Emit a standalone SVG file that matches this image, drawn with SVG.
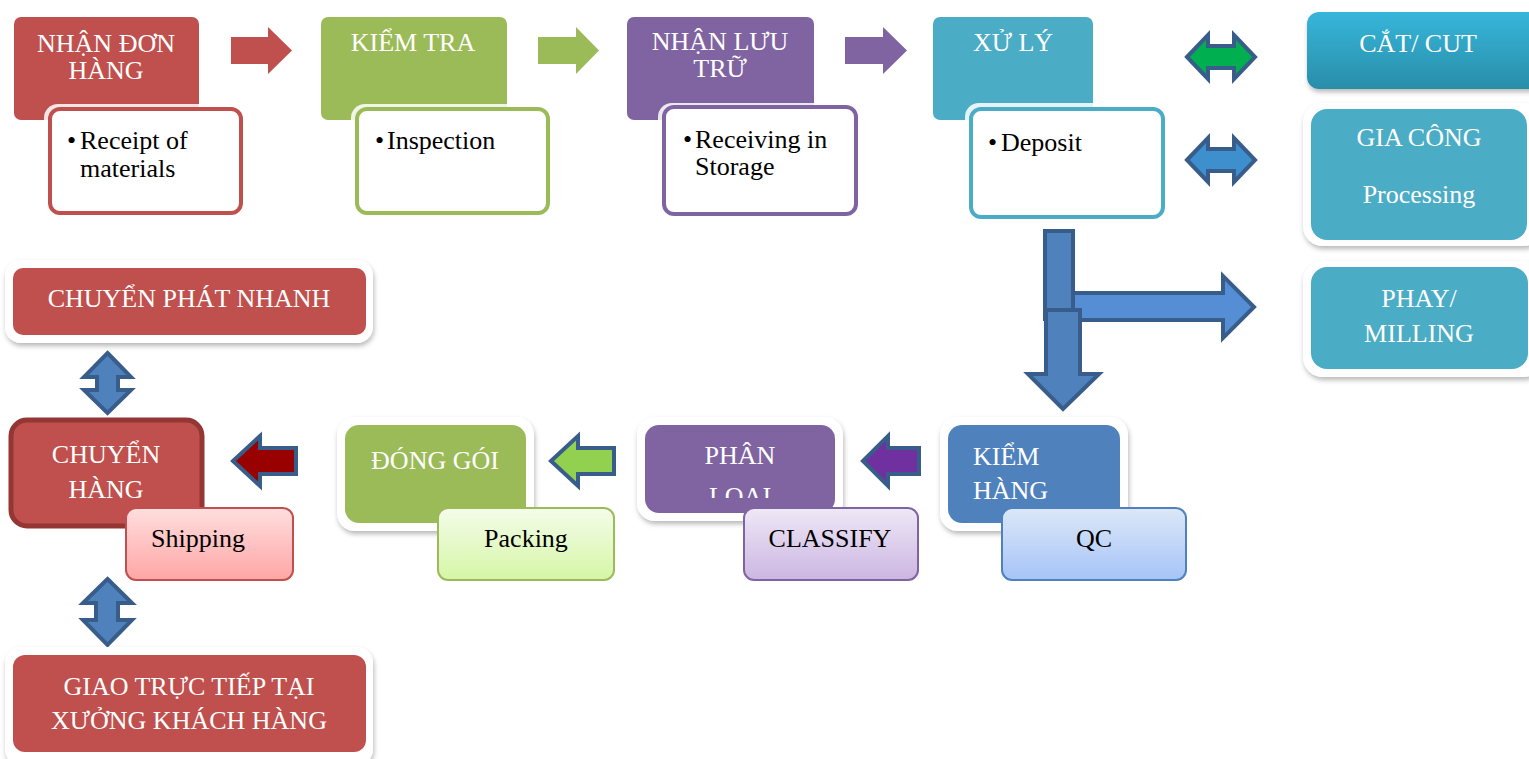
<svg xmlns="http://www.w3.org/2000/svg" width="1529" height="759" viewBox="0 0 1529 759">
<defs>
<filter id="sh" x="-10%" y="-10%" width="120%" height="130%"><feDropShadow dx="1" dy="3" stdDeviation="2.5" flood-color="#000" flood-opacity="0.28"/></filter>
<linearGradient id="gCut" x1="0" y1="0" x2="0" y2="1"><stop offset="0" stop-color="#36B6DA"/><stop offset="1" stop-color="#2A8DA9"/></linearGradient>
<linearGradient id="gShip" x1="0" y1="0" x2="0" y2="1"><stop offset="0" stop-color="#FFDEDE"/><stop offset="1" stop-color="#FFA6A6"/></linearGradient>
<linearGradient id="gPack" x1="0" y1="0" x2="0" y2="1"><stop offset="0" stop-color="#F4FCEA"/><stop offset="1" stop-color="#D6F6A6"/></linearGradient>
<linearGradient id="gClass" x1="0" y1="0" x2="0" y2="1"><stop offset="0" stop-color="#EEE8F6"/><stop offset="1" stop-color="#CCB6E2"/></linearGradient>
<linearGradient id="gQC" x1="0" y1="0" x2="0" y2="1"><stop offset="0" stop-color="#DCE8F8"/><stop offset="1" stop-color="#A6C4F8"/></linearGradient>
<clipPath id="clipLoai"><rect x="640" y="420" width="200" height="78"/></clipPath>
</defs>
<style>
text{font-family:"Liberation Serif","Times New Roman",serif;font-size:26px}
.w{fill:#FFFFFF}
.k{fill:#000000}
.c{text-anchor:middle}
.frame{fill:#FFFFFF;filter:url(#sh)}
.sub{fill:#FFFFFF;stroke-width:4}
.halo{fill:#FFFFFF;opacity:0.85}
.arr{stroke:#385D8A;stroke-width:4;stroke-linejoin:miter}
.grad{stroke-width:2}
</style>

<g id="connectors">
<polygon points="231,37 268,37 268,27 292,50.5 268,74 268,64 231,64" fill="#C0504D"/>
<polygon points="538,37 576,37 576,27 599,50.5 576,74 576,64 538,64" fill="#9BBB59"/>
<polygon points="845,37 883,37 883,27 907,50.5 883,74 883,64 845,64" fill="#8064A2"/>
<polygon class="arr" points="1187,57 1208,35 1208,46 1234,46 1234,35 1255,57 1234,79 1234,68 1208,68 1208,79" fill="#00B050"/>
<polygon class="arr" points="1187,160 1208,138 1208,149 1234,149 1234,138 1255,160 1234,182 1234,171 1208,171 1208,182" fill="#3E8FCE"/>
<rect class="arr" x="1045" y="231" width="28" height="88" fill="#4F81BD"/>
<polygon class="arr" points="1073,293 1223,293 1223,276 1254,307 1223,338 1223,320 1073,320" fill="#558ED5"/>
<polygon class="arr" points="1046,310 1080,310 1080,374 1099,374 1063,409 1028,374 1046,374" fill="#4F81BD"/>
<polygon class="arr" points="863,461 888,436 888,448 919,448 919,474 888,474 888,486" fill="#7030A0"/>
<polygon class="arr" points="551,461 578,436 578,448 614,448 614,474 578,474 578,486" fill="#92D050"/>
<polygon class="arr" points="233,461 260,436 260,448 296,448 296,474 260,474 260,486" fill="#990000"/>
<polygon class="arr" points="107.5,353 131,377 118,377 118,390 131,390 107.5,413 84,390 97,390 97,377 84,377" fill="#4F81BD"/>
<polygon class="arr" points="107.5,579 132,603 118,603 118,620 132,620 107.5,645 83,620 96,620 96,603 83,603" fill="#4F81BD"/>
</g>

<g id="n1">
<rect x="14" y="17" width="185" height="103" rx="7" fill="#C0504D"/>
<rect class="halo" x="44" y="104" width="204" height="116" rx="14"/>
<rect class="sub" x="50" y="109" width="191" height="104" rx="10" stroke="#C0504D"/>
<text class="w c" x="106" y="52">NHẬN ĐƠN</text>
<text class="w c" x="106" y="79">HÀNG</text>
<text class="k" x="67" y="149">•</text>
<text class="k" x="80" y="149">Receipt of</text>
<text class="k" x="80" y="177">materials</text>
</g>

<g id="n2">
<rect x="321" y="17" width="186" height="103" rx="7" fill="#9BBB59"/>
<rect class="halo" x="351" y="104" width="204" height="116" rx="14"/>
<rect class="sub" x="357" y="109" width="191" height="104" rx="10" stroke="#9BBB59"/>
<text class="w c" x="413" y="51">KIỂM TRA</text>
<text class="k" x="375" y="149">•</text>
<text class="k" x="387" y="149">Inspection</text>
</g>

<g id="n3">
<rect x="627" y="17" width="187" height="103" rx="7" fill="#8064A2"/>
<rect class="halo" x="658" y="103" width="204" height="118" rx="14"/>
<rect class="sub" x="664" y="107" width="192" height="107" rx="10" stroke="#8064A2"/>
<text class="w c" x="720" y="50">NHẬN LƯU</text>
<text class="w c" x="720" y="77">TRỮ</text>
<text class="k" x="683" y="148">•</text>
<text class="k" x="695" y="148">Receiving in</text>
<text class="k" x="695" y="175">Storage</text>
</g>

<g id="n4">
<rect x="933" y="17" width="160" height="103" rx="7" fill="#4BACC6"/>
<rect class="halo" x="965" y="103" width="204" height="120" rx="14"/>
<rect class="sub" x="971" y="109" width="192" height="108" rx="10" stroke="#4BACC6"/>
<text class="w c" x="1013" y="51">XỬ LÝ</text>
<text class="k" x="988" y="151">•</text>
<text class="k" x="1001" y="151">Deposit</text>
</g>

<g id="n-cut">
<rect x="1307" y="12" width="240" height="77" rx="12" fill="url(#gCut)" filter="url(#sh)"/>
<text class="w c" x="1418" y="52">CẮT/ CUT</text>
</g>

<g id="n-processing">
<rect class="frame" x="1303" y="103" width="240" height="143" rx="20"/>
<rect x="1311" y="109" width="216" height="131" rx="16" fill="#4BACC6"/>
<text class="w c" x="1419" y="146">GIA CÔNG</text>
<text class="w c" x="1419" y="203">Processing</text>
</g>

<g id="n-milling">
<rect class="frame" x="1303" y="261" width="240" height="116" rx="20"/>
<rect x="1311" y="267" width="217" height="102" rx="16" fill="#4BACC6"/>
<text class="w c" x="1419" y="307">PHAY/</text>
<text class="w c" x="1419" y="342">MILLING</text>
</g>

<g id="n-qc">
<rect class="frame" x="940" y="417" width="188" height="114" rx="18"/>
<rect x="948" y="425" width="172" height="98" rx="14" fill="#4F81BD"/>
<text class="w" x="973" y="465">KIỂM</text>
<text class="w" x="973" y="499">HÀNG</text>
<rect class="grad" x="1002" y="508" width="184" height="72" rx="10" fill="url(#gQC)" stroke="#4F81BD"/>
<text class="k c" x="1094" y="547">QC</text>
</g>

<g id="n-classify">
<rect class="frame" x="637" y="417" width="206" height="104" rx="18"/>
<rect x="645" y="425" width="190" height="88" rx="14" fill="#8064A2"/>
<text class="w c" x="740" y="464">PHÂN</text>
<text class="w c" x="740" y="505" clip-path="url(#clipLoai)">LOẠI</text>
<rect class="grad" x="744" y="508" width="174" height="72" rx="10" fill="url(#gClass)" stroke="#8064A2"/>
<text class="k c" x="830" y="547">CLASSIFY</text>
</g>

<g id="n-packing">
<rect class="frame" x="337" y="417" width="197" height="114" rx="18"/>
<rect x="345" y="425" width="181" height="98" rx="14" fill="#9BBB59"/>
<text class="w c" x="435" y="469">ĐÓNG GÓI</text>
<rect class="grad" x="438" y="508" width="176" height="72" rx="10" fill="url(#gPack)" stroke="#9BBB59"/>
<text class="k c" x="526" y="547">Packing</text>
</g>

<g id="n-shipping">
<rect x="11" y="420" width="191" height="106" rx="16" fill="#C0504D" stroke="#943634" stroke-width="5"/>
<text class="w c" x="106" y="463">CHUYỂN</text>
<text class="w c" x="106" y="498">HÀNG</text>
<rect class="grad" x="126" y="508" width="167" height="72" rx="10" fill="url(#gShip)" stroke="#C0504D"/>
<text class="k c" x="198" y="547">Shipping</text>
</g>

<g id="n-express">
<rect class="frame" x="5" y="260" width="368" height="83" rx="16"/>
<rect x="13" y="268" width="353" height="67" rx="10" fill="#C0504D"/>
<text class="w c" x="189" y="307">CHUYỂN PHÁT NHANH</text>
</g>

<g id="n-direct">
<rect class="frame" x="5" y="647" width="368" height="118" rx="16"/>
<rect x="13" y="655" width="353" height="97" rx="12" fill="#C0504D"/>
<text class="w c" x="189" y="695">GIAO TRỰC TIẾP TẠI</text>
<text class="w c" x="189" y="729">XƯỞNG KHÁCH HÀNG</text>
</g>
</svg>
